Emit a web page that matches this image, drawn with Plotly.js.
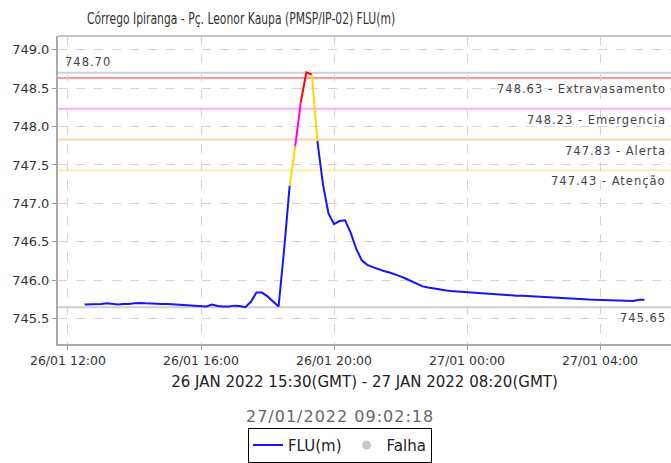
<!DOCTYPE html>
<html>
<head>
<meta charset="utf-8">
<script src="https://cdn.plot.ly/plotly-3.0.1.min.js"></script>
<style>
html,body{margin:0;padding:0;background:#fff;}
#chart{width:671px;height:463px;}
text.annotation-text{letter-spacing:1px;}
text.gtitle{transform-box:view-box;transform-origin:87px 18px;transform:scaleX(0.72);}
</style>
</head>
<body>
<div id="chart"></div>
<script>
// 10-minute readings, local time, from 26/01 12:30 to 27/01 05:20
const startTime = '2022-01-26T12:30:00';
const stepMinutes = 10;
const levels = [
  745.685, 745.685, 745.685, 745.690, 745.700, 745.690, 745.685, 745.690, 745.690, 745.700,
  745.705, 745.700, 745.695, 745.690, 745.690, 745.690, 745.685, 745.685, 745.680, 745.675,
  745.665, 745.665, 745.660, 745.685, 745.665, 745.660, 745.660, 745.670, 745.665, 745.650,
  745.720, 745.840, 745.840, 745.790, 745.720, 745.660, 746.400, 747.230, 747.740, 748.310,
  748.705, 748.675, 747.810, 747.250, 746.870, 746.730, 746.770, 746.780, 746.620, 746.410,
  746.260, 746.200, 746.170, 746.140, 746.120, 746.100, 746.080, 746.050, 746.020, 745.990,
  745.950, 745.920, 745.905, 745.890, 745.880, 745.870, 745.860, 745.855, 745.850, 745.845,
  745.840, 745.835, 745.825, 745.820, 745.815, 745.810, 745.805, 745.800, 745.800, 745.800,
  745.795, 745.790, 745.785, 745.780, 745.775, 745.770, 745.770, 745.765, 745.760, 745.755,
  745.750, 745.750, 745.748, 745.745, 745.745, 745.740, 745.740, 745.738, 745.735, 745.730,
  745.745, 745.745
];
const thresholdValues = [748.63, 748.23, 747.83, 747.43];
const thresholdNames = ['Extravasamento', 'Emergencia', 'Alerta', 'Atenção'];
const thresholdColors = ['#ff9a9a', '#ffaaff', '#ffd2a8', '#fff0a8'];
const levelColors = ['#ff0000', '#ff00ff', '#ffd700', '#ffd700'];
const baseColor = '#1414ff';
const maxLevel = 748.70;
const minRef = 745.65;
const xTickLabels = ['26/01 12:00', '26/01 16:00', '26/01 20:00', '27/01 00:00', '27/01 04:00'];
const xTickValues = ['2022-01-26 12:00', '2022-01-26 16:00', '2022-01-26 20:00', '2022-01-27 00:00', '2022-01-27 04:00'];
const yTickValues = [745.5, 746.0, 746.5, 747.0, 747.5, 748.0, 748.5, 749.0];

function fmt(d) {
  const p = n => String(n).padStart(2, '0');
  return d.getFullYear() + '-' + p(d.getMonth() + 1) + '-' + p(d.getDate()) + ' ' + p(d.getHours()) + ':' + p(d.getMinutes());
}
const t0 = new Date(startTime);
const times = levels.map((_, i) => fmt(new Date(t0.getTime() + i * stepMinutes * 60000)));

function colorFor(v) {
  for (let k = 0; k < thresholdValues.length; k++) if (v >= thresholdValues[k]) return levelColors[k];
  return baseColor;
}

// colored runs: each segment takes the colour of the level its end point reaches
const traces = [];
let run = null;
for (let i = 1; i < levels.length; i++) {
  const c = colorFor(levels[i]);
  if (!run || run.color !== c) {
    run = {color: c, x: [times[i - 1]], y: [levels[i - 1]]};
    traces.push(run);
  }
  run.x.push(times[i]); run.y.push(levels[i]);
}
const data = traces.map((r, idx) => ({
  type: 'scatter', mode: 'lines', x: r.x, y: r.y,
  line: {color: r.color, width: 2},
  name: 'FLU(m)', legendgroup: 'flu', showlegend: idx === 0, hoverinfo: 'x+y'
}));
data.push({
  type: 'scatter', mode: 'markers', x: [null], y: [null], name: 'Falha',
  marker: {color: '#c8c8c8', size: 9, symbol: 'circle'}, showlegend: true
});

const shapes = [];
const annotations = [];
const lab = {family: 'DejaVu Sans', size: 11.5, color: '#444'};
shapes.push({type: 'line', xref: 'paper', x0: 0, x1: 1, yref: 'y', y0: maxLevel, y1: maxLevel, line: {color: '#cfcfcf', width: 2}, layer: 'below'});
annotations.push({xref: 'paper', x: 0.008, yref: 'y', y: maxLevel, text: maxLevel.toFixed(2), showarrow: false, xanchor: 'left', yanchor: 'bottom', yshift: 2, font: lab});
thresholdValues.forEach((v, k) => {
  shapes.push({type: 'line', xref: 'paper', x0: 0, x1: 1, yref: 'y', y0: v, y1: v, line: {color: thresholdColors[k], width: 2}, layer: 'below'});
  annotations.push({xref: 'paper', x: 0.995, yref: 'y', y: v, text: v.toFixed(2) + ' - ' + thresholdNames[k], showarrow: false, xanchor: 'right', yanchor: 'top', yshift: -2, font: lab});
});
shapes.push({type: 'line', xref: 'paper', x0: 0, x1: 1, yref: 'y', y0: minRef, y1: minRef, line: {color: '#cfcfcf', width: 2}, layer: 'below'});
annotations.push({xref: 'paper', x: 0.995, yref: 'y', y: minRef, text: minRef.toFixed(2), showarrow: false, xanchor: 'right', yanchor: 'top', yshift: -2, font: lab});
// top border
shapes.push({type: 'line', xref: 'paper', x0: 0, x1: 1, yref: 'paper', y0: 1, y1: 1, line: {color: '#c4c4c4', width: 2}});
annotations.push({xref: 'paper', x: 0.46, yref: 'paper', y: -0.234, text: '27/01/2022 09:02:18', showarrow: false, xanchor: 'center', yanchor: 'middle', font: {family: 'DejaVu Sans', size: 16, color: '#666'}});

const layout = {
  width: 671, height: 463,
  margin: {l: 58, r: 0, t: 36, b: 110, pad: 0},
  paper_bgcolor: '#fff', plot_bgcolor: '#fff',
  font: {family: 'DejaVu Sans', color: '#333'},
  title: {text: 'Córrego Ipiranga - Pç. Leonor Kaupa (PMSP/IP-02) FLU(m)', xref: 'container', x: 87 / 671, xanchor: 'left', yref: 'container', y: 0.96, yanchor: 'middle', font: {family: 'DejaVu Sans', size: 15, color: '#333'}},
  xaxis: {
    type: 'date', range: ['2022-01-26 11:42', '2022-01-27 06:08'],
    tickvals: xTickValues, ticktext: xTickLabels,
    tickfont: {family: 'DejaVu Sans', size: 12.5, color: '#333'},
    ticks: 'outside', ticklen: 4, tickcolor: '#999',
    showline: true, linecolor: '#aaa', linewidth: 2,
    showgrid: true, gridcolor: '#d4d4d4', griddash: 'dash', gridwidth: 1,
    zeroline: false,
    title: {text: '26 JAN 2022 15:30(GMT) - 27 JAN 2022 08:20(GMT)', standoff: 9, font: {family: 'DejaVu Sans', size: 15, color: '#222'}}
  },
  yaxis: {
    range: [745.171, 749.177], tickvals: yTickValues, tickformat: '.1f',
    tickfont: {family: 'DejaVu Sans', size: 13, color: '#333'},
    ticks: 'outside', ticklen: 4, tickcolor: '#999',
    showline: true, linecolor: '#aaa', linewidth: 2,
    showgrid: true, gridcolor: '#d4d4d4', griddash: 'dash', gridwidth: 1,
    zeroline: false
  },
  showlegend: true,
  legend: {orientation: 'h', xref: 'paper', x: 0.46, xanchor: 'center', yref: 'paper', y: -0.272, yanchor: 'top',
    bordercolor: '#000', borderwidth: 1, bgcolor: '#fff',
    font: {family: 'DejaVu Sans', size: 15, color: '#222'}, itemwidth: 30, tracegroupgap: 0},
  shapes: shapes, annotations: annotations
};
Plotly.newPlot('chart', data, layout, {staticPlot: true, displayModeBar: false});
</script>
</body>
</html>
